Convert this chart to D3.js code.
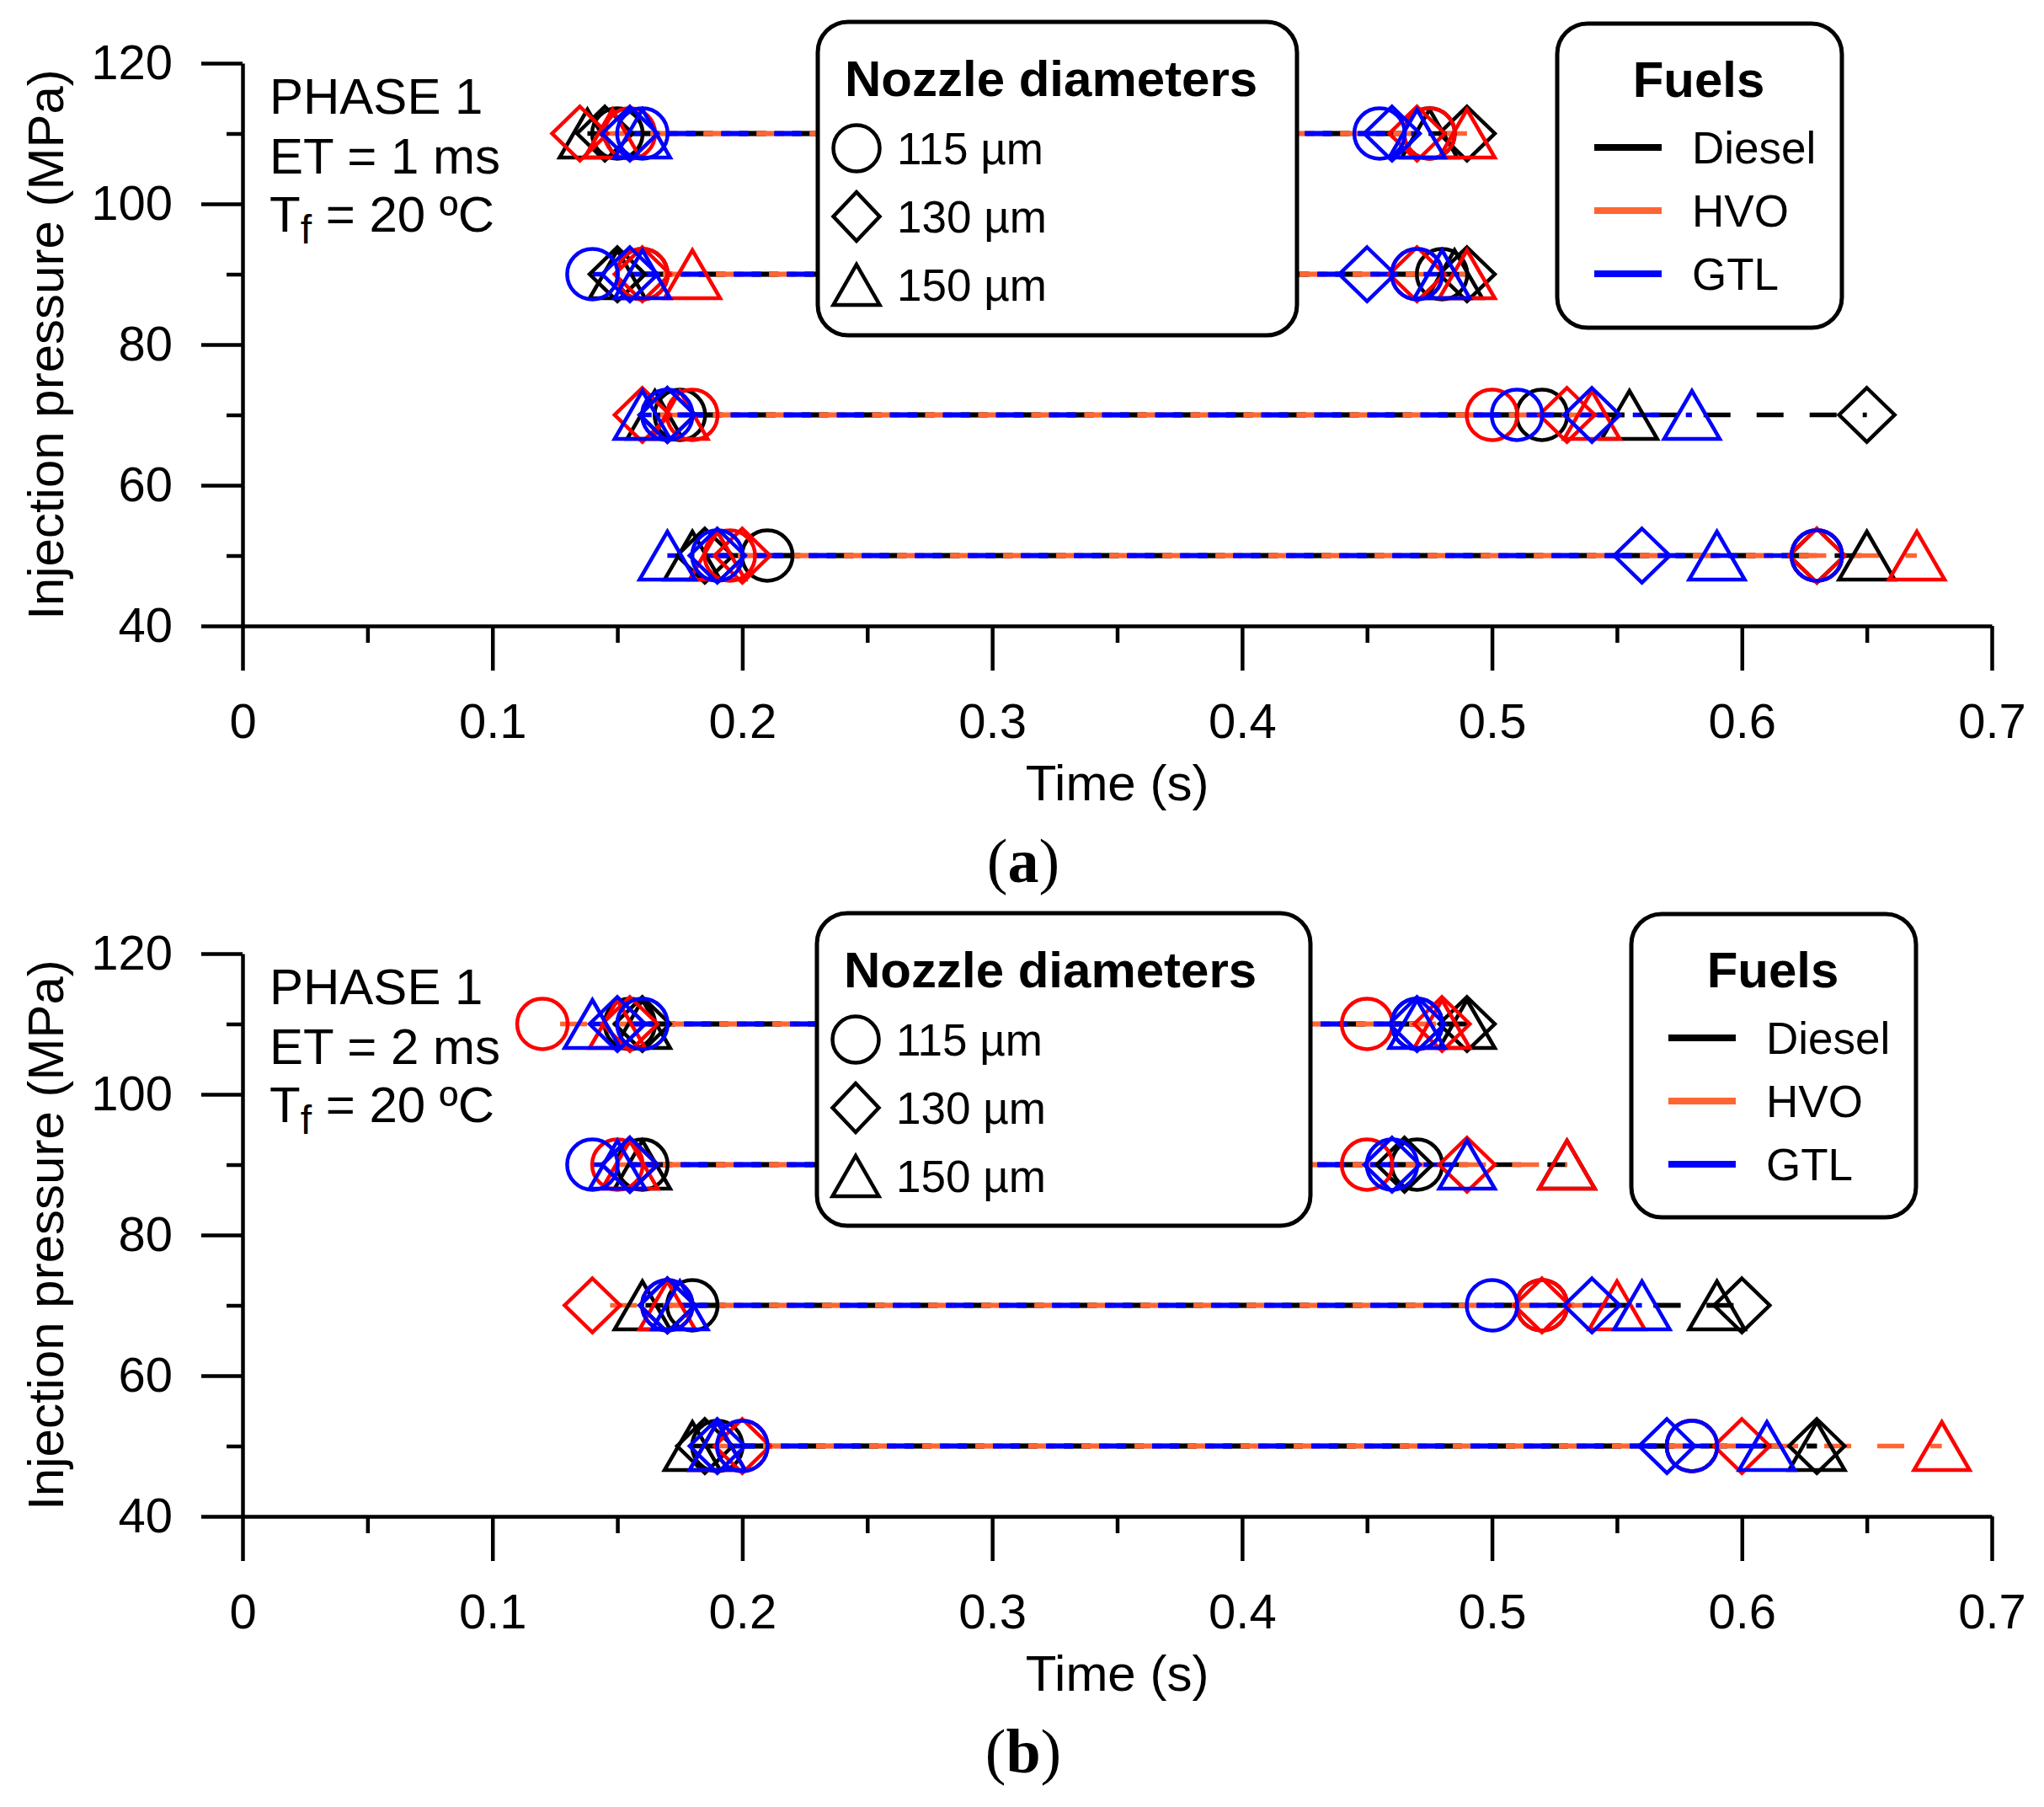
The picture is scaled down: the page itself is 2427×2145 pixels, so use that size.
<!DOCTYPE html>
<html><head><meta charset="utf-8">
<script src="https://cdn.jsdelivr.net/npm/d3@7"></script>
<style>
body{margin:0;background:#fff}
text{font-family:"Liberation Sans",Arial,sans-serif;fill:#000}
</style>
</head><body>
<svg id="chart" width="2427" height="2145"></svg>
<script>
// ---------------- DATA ----------------
const fuels = ["Diesel", "HVO", "GTL"];
const nozzles = ["115 µm", "130 µm", "150 µm"];
const shapes = ["circle", "diamond", "triangle"];
const pressures = [110, 90, 70, 50];
const lineColors = ["#000000", "#ff6633", "#0000ff"];
const markerColors = ["#000000", "#ff0000", "#0000ff"];
const xTicks = [0, 0.1, 0.2, 0.3, 0.4, 0.5, 0.6, 0.7];
const xMinorTicks = [0.05, 0.15, 0.25, 0.35, 0.45, 0.55, 0.65];
const yTicks = [40, 60, 80, 100, 120];
const yMinorTicks = [50, 70, 90, 110];

// Row order = pressures; within a row:
// Diesel115, Diesel130, Diesel150, HVO115, HVO130, HVO150, GTL115, GTL130, GTL150
const et1Start = [
  [0.150, 0.145, 0.138, 0.155, 0.135, 0.148, 0.160, 0.155, 0.160],
  [0.160, 0.150, 0.150, 0.160, 0.160, 0.180, 0.140, 0.155, 0.160],
  [0.175, 0.170, 0.165, 0.180, 0.160, 0.175, 0.170, 0.170, 0.160],
  [0.210, 0.185, 0.180, 0.195, 0.200, 0.190, 0.190, 0.190, 0.170]
];
const et1End = [
  [0.475, 0.490, 0.475, 0.475, 0.470, 0.490, 0.455, 0.460, 0.470],
  [0.480, 0.490, 0.485, 0.470, 0.470, 0.490, 0.470, 0.450, 0.480],
  [0.520, 0.650, 0.555, 0.500, 0.530, 0.540, 0.510, 0.540, 0.580],
  [0.630, 0.630, 0.650, 0.630, 0.630, 0.670, 0.630, 0.560, 0.590]
];
const et2Start = [
  [0.155, 0.160, 0.160, 0.120, 0.155, 0.150, 0.160, 0.150, 0.140],
  [0.160, 0.155, 0.160, 0.150, 0.155, 0.155, 0.140, 0.155, 0.150],
  [0.180, 0.170, 0.160, 0.170, 0.140, 0.170, 0.170, 0.170, 0.175],
  [0.190, 0.185, 0.180, 0.200, 0.200, 0.190, 0.200, 0.190, 0.190]
];
const et2End = [
  [0.470, 0.490, 0.490, 0.450, 0.480, 0.480, 0.470, 0.470, 0.470],
  [0.470, 0.465, 0.530, 0.450, 0.490, 0.530, 0.460, 0.460, 0.490],
  [0.520, 0.600, 0.590, 0.520, 0.520, 0.550, 0.500, 0.540, 0.560],
  [0.580, 0.630, 0.630, 0.580, 0.600, 0.680, 0.580, 0.570, 0.610]
];

// ---------------- LAYOUT ----------------
const svg = d3.select("#chart");
const X0 = 288, X1 = 2365;

const panels = [
  { tag: "a", et: "ET = 1 ms", start: et1Start, end: et1End, top: 75, bottom: 743,
    noz: { x: 971, y: 26, w: 569, h: 372 }, fuel: { x: 1849, y: 28, w: 338, h: 361 } },
  { tag: "b", et: "ET = 2 ms", start: et2Start, end: et2End, top: 1132, bottom: 1800,
    noz: { x: 970, y: 1084, w: 586, h: 371 }, fuel: { x: 1937, y: 1085, w: 338, h: 360 } }
];

function markerPath(shape, cx, cy, s) {
  const p = d3.path();
  if (shape === "diamond") {
    p.moveTo(cx, cy - s.dh); p.lineTo(cx + s.dw, cy); p.lineTo(cx, cy + s.dh); p.lineTo(cx - s.dw, cy); p.closePath();
  } else if (shape === "triangle") {
    p.moveTo(cx, cy - s.th); p.lineTo(cx + s.tw, cy + s.th); p.lineTo(cx - s.tw, cy + s.th); p.closePath();
  } else {
    p.moveTo(cx + s.r, cy); p.arc(cx, cy, s.r, 0, 2 * Math.PI); p.closePath();
  }
  return p.toString();
}
const dataSize = { r: 30, dw: 33, dh: 32, tw: 33, th: 28.5 };
const legSize = { r: 27.5, dw: 27.5, dh: 29, tw: 27.5, th: 24 };
const DASH = 32, GAP = 31, PHASE = 21;

function drawPanel(cfg) {
  const g = svg.append("g");
  const x = d3.scaleLinear().domain([0, 0.7]).range([X0, X1]);
  const y = d3.scaleLinear().domain([40, 120]).range([cfg.bottom, cfg.top]);

  // axes
  const yAxis = g.append("g").attr("transform", `translate(${X0},0)`)
    .call(d3.axisLeft(y).tickValues(yTicks).tickSize(49).tickSizeOuter(0).tickPadding(34).tickFormat(d3.format("d")));
  const yMinor = g.append("g").attr("transform", `translate(${X0},0)`)
    .call(d3.axisLeft(y).tickValues(yMinorTicks).tickSize(19).tickFormat(""));
  yMinor.select(".domain").remove();
  const xAxis = g.append("g").attr("transform", `translate(0,${cfg.bottom})`)
    .call(d3.axisBottom(x).tickValues(xTicks).tickSize(53).tickSizeOuter(0)
      .tickFormat(d => d === 0 ? "0" : d3.format(".1f")(d)));
  const xMinor = g.append("g").attr("transform", `translate(0,${cfg.bottom})`)
    .call(d3.axisBottom(x).tickValues(xMinorTicks).tickSize(20).tickFormat(""));
  xMinor.select(".domain").remove();
  [yAxis, yMinor, xAxis, xMinor].forEach(a => {
    a.selectAll("path,line").attr("stroke", "#000").attr("stroke-width", 4.5);
  });
  yAxis.selectAll("text").attr("font-size", 58).attr("fill", "#111")
    .style("font-family", '"Liberation Sans", Arial, sans-serif');
  xAxis.selectAll("text").attr("font-size", 58).attr("fill", "#111").attr("y", 113).attr("dy", "0.35em")
    .style("font-family", '"Liberation Sans", Arial, sans-serif');

  // axis titles
  g.append("text").attr("x", (X0 + X1) / 2).attr("y", cfg.bottom + 207)
    .attr("text-anchor", "middle").attr("font-size", 60).text("Time (s)");
  g.append("text").attr("transform", `translate(54,${(cfg.top + cfg.bottom) / 2}) rotate(-90)`)
    .attr("text-anchor", "middle").attr("dominant-baseline", "central").attr("font-size", 60)
    .text("Injection pressure (MPa)");

  // annotation
  const ann = g.append("g").attr("font-size", 60);
  ann.append("text").attr("x", 320).attr("y", cfg.top + 60).text("PHASE 1");
  ann.append("text").attr("x", 320).attr("y", cfg.top + 131).text(cfg.et);
  const tf = ann.append("text").attr("x", 320).attr("y", cfg.top + 200);
  tf.append("tspan").text("T");
  tf.append("tspan").attr("font-size", 48).attr("dy", 14).text("f");
  tf.append("tspan").attr("dy", -14).text(" = 20 ºC");

  // data lines (Diesel, HVO, GTL order); dash phase anchored per row, staggered per fuel
  const segs = [];
  fuels.forEach((f, fi) => {
    pressures.forEach((p, ri) => {
      const origin = d3.min(cfg.start[ri]);
      nozzles.forEach((n, ni) => {
        const k = fi * 3 + ni;
        segs.push({ fi, ni, p, s: cfg.start[ri][k], e: cfg.end[ri][k], o: origin });
      });
    });
  });
  g.append("g").selectAll("line").data(segs).join("line")
    .attr("x1", d => x(d.s)).attr("x2", d => x(d.e))
    .attr("y1", d => y(d.p)).attr("y2", d => y(d.p))
    .attr("stroke", d => lineColors[d.fi]).attr("stroke-width", 5.5)
    .attr("stroke-dasharray", `${DASH},${GAP}`)
    .attr("stroke-dashoffset", d => x(d.s) - x(d.o) - d.fi * PHASE + 3 * (DASH + GAP));

  // markers
  const pts = [];
  segs.forEach(d => { pts.push({ ...d, t: d.s }); pts.push({ ...d, t: d.e }); });
  g.append("g").selectAll("path").data(pts).join("path")
    .attr("d", d => markerPath(shapes[d.ni], x(d.t), y(d.p), dataSize))
    .attr("fill", "none").attr("stroke", d => markerColors[d.fi]).attr("stroke-width", 4.5)
    .attr("stroke-linejoin", "miter");

  // nozzle legend
  const nz = cfg.noz;
  const lg = g.append("g");
  lg.append("rect").attr("x", nz.x).attr("y", nz.y).attr("width", nz.w).attr("height", nz.h)
    .attr("rx", 36).attr("fill", "#fff").attr("stroke", "#000").attr("stroke-width", 5);
  lg.append("text").attr("x", nz.x + 32).attr("y", nz.y + 88).attr("font-size", 60)
    .attr("font-weight", "bold").text("Nozzle diameters");
  nozzles.forEach((n, i) => {
    const cy = nz.y + 150 + i * 81;
    lg.append("path").attr("d", markerPath(shapes[i], nz.x + 46, cy, legSize))
      .attr("fill", "none").attr("stroke", "#000").attr("stroke-width", 4.5);
    lg.append("text").attr("x", nz.x + 94).attr("y", cy + 19).attr("font-size", 53).text(n);
  });

  // fuel legend
  const fu = cfg.fuel;
  const fg = g.append("g");
  fg.append("rect").attr("x", fu.x).attr("y", fu.y).attr("width", fu.w).attr("height", fu.h)
    .attr("rx", 36).attr("fill", "#fff").attr("stroke", "#000").attr("stroke-width", 5);
  fg.append("text").attr("x", fu.x + fu.w / 2 - 1).attr("y", fu.y + 87).attr("text-anchor", "middle")
    .attr("font-size", 60).attr("font-weight", "bold").text("Fuels");
  fuels.forEach((f, i) => {
    const cy = fu.y + 147 + i * 75;
    fg.append("line").attr("x1", fu.x + 44).attr("x2", fu.x + 124).attr("y1", cy).attr("y2", cy)
      .attr("stroke", lineColors[i]).attr("stroke-width", 8);
    fg.append("text").attr("x", fu.x + 160).attr("y", cy + 19).attr("font-size", 53).attr("fill", "#111").text(f);
  });

  // panel tag
  const tg = g.append("text").attr("x", 1215).attr("y", cfg.bottom + 304).attr("text-anchor", "middle")
    .attr("font-size", 74).style("font-family", '"Liberation Serif", "Times New Roman", serif');
  tg.append("tspan").text("(");
  tg.append("tspan").attr("font-weight", "bold").text(cfg.tag);
  tg.append("tspan").text(")");
}

panels.forEach(drawPanel);
</script>
</body></html>
